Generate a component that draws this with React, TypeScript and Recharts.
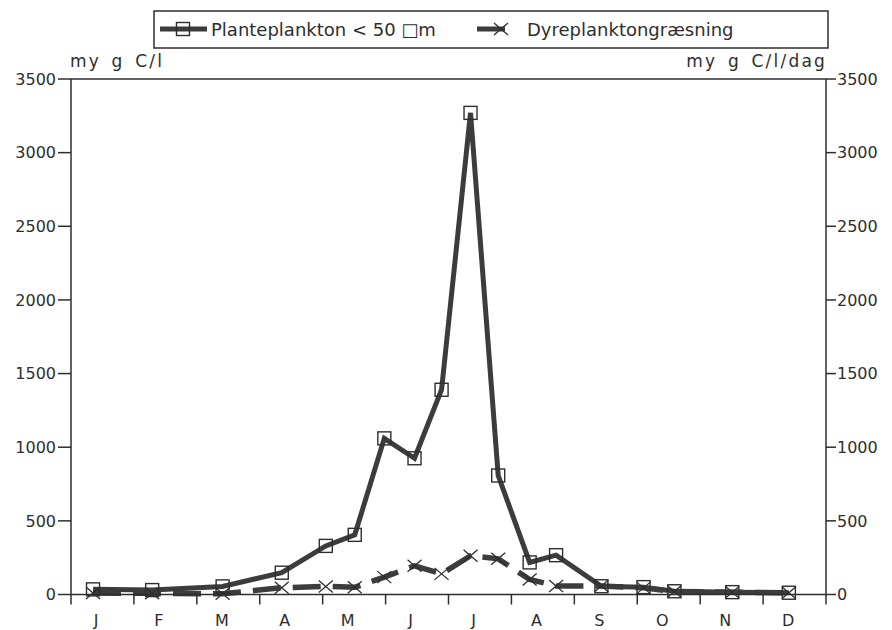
import { ComposedChart, Line, XAxis, YAxis, ReferenceLine, Legend } from "recharts";

const FONT = "'DejaVu Sans', sans-serif";
const INK = "#2e2e2e";
const LINE = "#3c3c3c";

// sampling dates, in months from 1 January
const sampleMonth = [0.35, 1.29, 2.41, 3.35, 4.05, 4.51, 4.98, 5.46, 5.89, 6.35, 6.79, 7.29, 7.71, 8.43, 9.1, 9.59, 10.51, 11.41];
// my g C/l
const planteplankton = [35, 30, 55, 148, 330, 405, 1060, 925, 1390, 3270, 808, 218, 267, 56, 50, 22, 16, 12];
// my g C/l/dag
const dyreplankton = [10, 8, 5, 46, 55, 49, 118, 195, 140, 263, 242, 102, 58, 58, 45, 20, 16, 12];

const monthLabels = ["J", "F", "M", "A", "M", "J", "J", "A", "S", "O", "N", "D"];
const monthTicks = [0, 1, 2, 3, 4, 5, 6, 7, 8, 9, 10, 11, 12];
const yTicks = [0, 500, 1000, 1500, 2000, 2500, 3000, 3500];

const PLANTE_NAME = "Planteplankton < 50 \u25A1m";
const DYRE_NAME = "Dyreplanktongræsning";

const chartData = sampleMonth.map((month, i) => ({
  month,
  plante: planteplankton[i],
  dyre: dyreplankton[i],
}));

function SquareDot(props: any) {
  const { cx, cy } = props;
  if (cx == null || cy == null) return null;
  return <rect x={cx - 6.5} y={cy - 6.5} width={13} height={13} fill="none" stroke={INK} strokeWidth={1.4} />;
}

function CrossDot(props: any) {
  const { cx, cy } = props;
  if (cx == null || cy == null) return null;
  return (
    <g stroke={INK} strokeWidth={1.3}>
      <line x1={cx - 7} y1={cy - 6} x2={cx + 7} y2={cy + 6} />
      <line x1={cx - 7} y1={cy + 6} x2={cx + 7} y2={cy - 6} />
    </g>
  );
}

function MonthTick(props: any) {
  const { x, y, payload } = props;
  if (payload.value >= 12) return null;
  return (
    <text x={x + 25} y={y + 19.5} textAnchor="middle" fontSize={16} fill={INK} fontFamily={FONT}>
      {monthLabels[payload.value]}
    </text>
  );
}

const legendSlots: Record<string, { lineFrom: number; lineTo: number; marker: number; text: number }> = {
  plante: { lineFrom: 152, lineTo: 199, marker: 175, text: 203 },
  dyre: { lineFrom: 469, lineTo: 497, marker: 493, text: 519 },
};

function LegendBox(props: any) {
  const { payload = [] } = props;
  return (
    <svg width={884} height={48} style={{ display: "block" }}>
      <rect x={146} y={3} width={674} height={37} fill="none" stroke={INK} strokeWidth={1.5} />
      {payload.map((entry: any) => {
        const s = legendSlots[entry.dataKey];
        if (!s) return null;
        return (
          <g key={entry.dataKey}>
            <line x1={s.lineFrom} y1={21} x2={s.lineTo} y2={21} stroke={LINE} strokeWidth={5} />
            {entry.dataKey === "plante" ? <SquareDot cx={s.marker} cy={21} /> : <CrossDot cx={s.marker} cy={21} />}
            <text x={s.text} y={28} fontSize={18} fill={INK} fontFamily={FONT}>
              {entry.value}
            </text>
          </g>
        );
      })}
    </svg>
  );
}

function unitLabel(text: string, side: "left" | "right") {
  return (props: any) => {
    const vb = props.viewBox || {};
    const x = side === "left" ? vb.x + vb.width - 1 : vb.x + 1;
    return (
      <text
        x={x}
        y={vb.y - 12}
        textAnchor={side === "left" ? "start" : "end"}
        fontSize={17}
        fill={INK}
        fontFamily={FONT}
        style={{ letterSpacing: "2.2px", wordSpacing: "3px" }}
      >
        {text}
      </text>
    );
  };
}

export default function App() {
  const tickStyle = { fontSize: 16, fill: INK, fontFamily: FONT };
  return (
    <div style={{ width: 884, height: 622, background: "#fff" }}>
      <ComposedChart width={884} height={622} data={chartData} margin={{ top: 71, right: 0, bottom: 5.5, left: 0 }}>
        <XAxis
          type="number"
          dataKey="month"
          domain={[0, 12]}
          ticks={monthTicks}
          interval={0}
          height={30}
          tickSize={10}
          tickMargin={2}
          axisLine={{ stroke: INK, strokeWidth: 1.5 }}
          tickLine={{ stroke: INK, strokeWidth: 1.5 }}
          tick={<MonthTick />}
          allowDataOverflow
        />
        <YAxis
          yAxisId="left"
          domain={[0, 3500]}
          ticks={yTicks}
          interval={0}
          width={63}
          tickSize={13}
          tickMargin={2}
          axisLine={{ stroke: INK, strokeWidth: 1.5 }}
          tickLine={{ stroke: INK, strokeWidth: 1.5 }}
          tick={tickStyle}
          label={{ content: unitLabel("my g C/l", "left") }}
        />
        <YAxis
          yAxisId="right"
          orientation="right"
          domain={[0, 3500]}
          ticks={yTicks}
          interval={0}
          width={66}
          tickSize={10}
          tickMargin={1}
          axisLine={{ stroke: INK, strokeWidth: 1.5 }}
          tickLine={{ stroke: INK, strokeWidth: 1.5 }}
          tick={tickStyle}
          label={{ content: unitLabel("my g C/l/dag", "right") }}
        />
        <ReferenceLine yAxisId="left" y={3500} stroke={INK} strokeWidth={1.5} />
        <Legend
          layout="horizontal"
          verticalAlign="middle"
          align="center"
          wrapperStyle={{ top: 0, left: 0, width: 884, height: 48 }}
          content={<LegendBox />}
        />
        <Line
          yAxisId="left"
          type="linear"
          dataKey="plante"
          name={PLANTE_NAME}
          stroke={LINE}
          strokeWidth={5}
          dot={<SquareDot />}
          activeDot={false}
          isAnimationActive={false}
        />
        <Line
          yAxisId="right"
          type="linear"
          dataKey="dyre"
          name={DYRE_NAME}
          stroke={LINE}
          strokeWidth={5.5}
          strokeDasharray="28 12"
          dot={<CrossDot />}
          activeDot={false}
          isAnimationActive={false}
        />
      </ComposedChart>
    </div>
  );
}
